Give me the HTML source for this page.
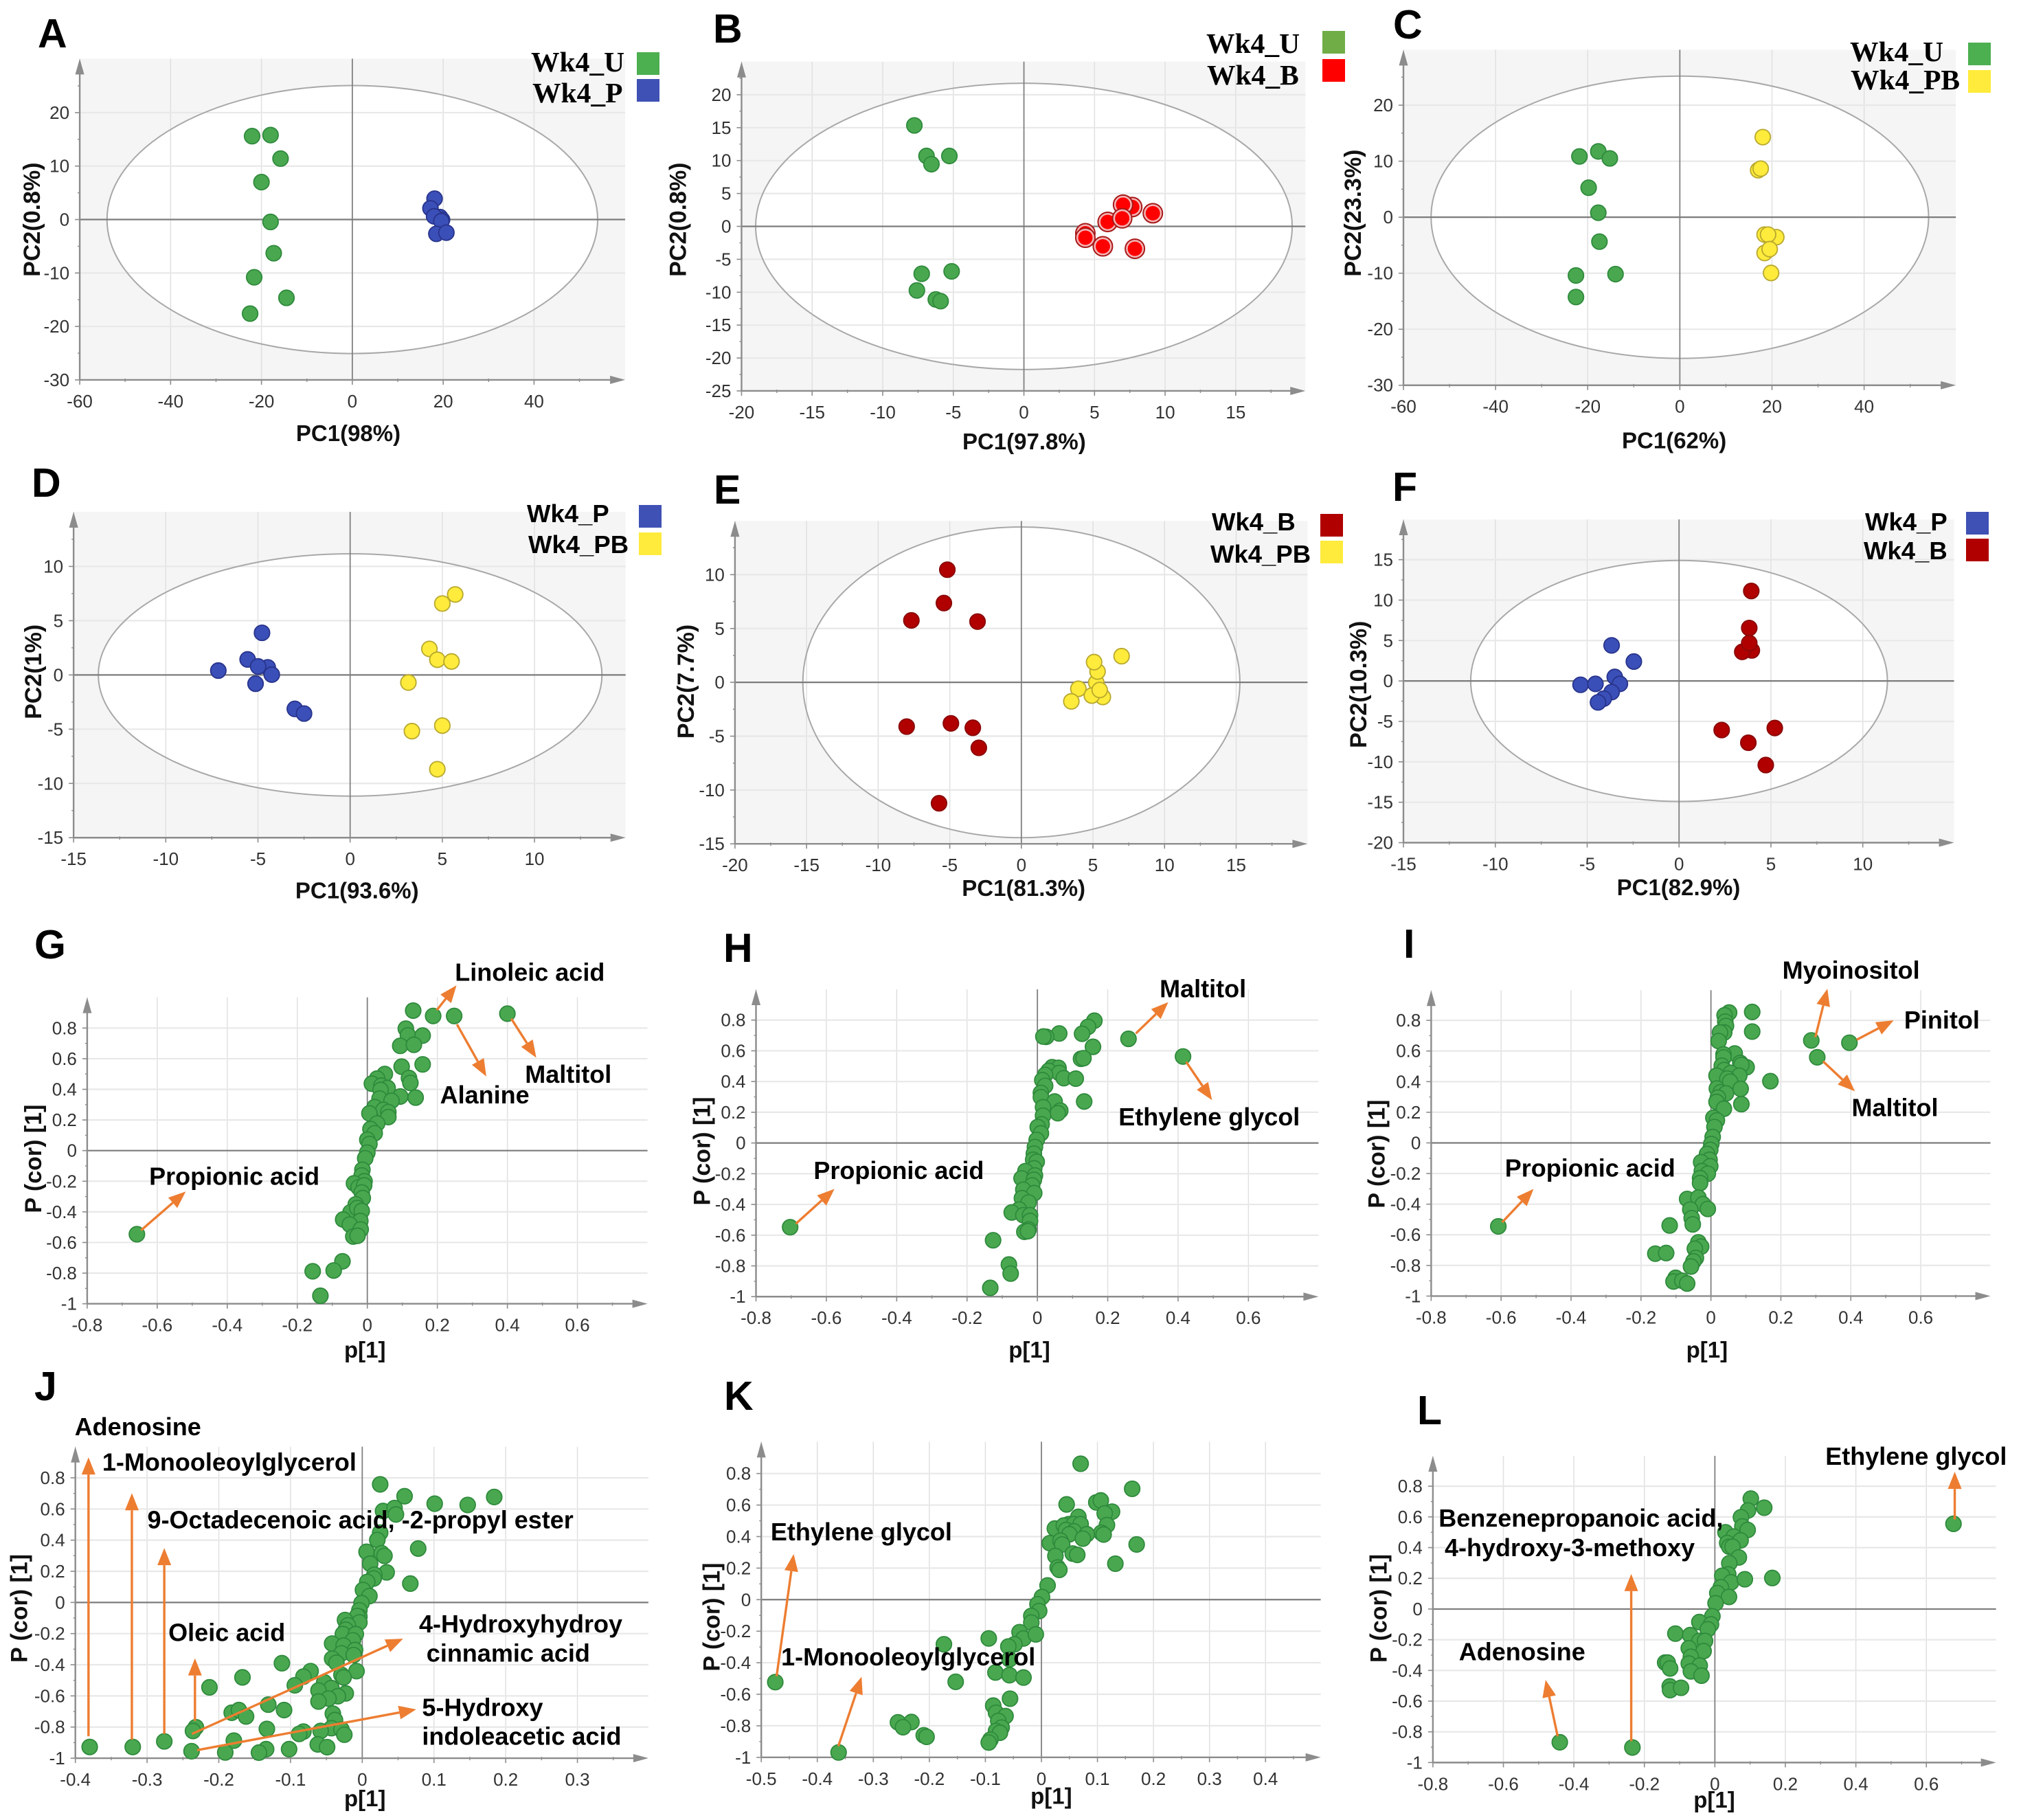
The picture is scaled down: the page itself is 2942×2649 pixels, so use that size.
<!DOCTYPE html>
<html lang="en">
<head>
<meta charset="utf-8">
<title>PCA score plots and S-plots</title>
<style>
html,body{margin:0;padding:0;background:#fff;}
svg{display:block;font-family:"Liberation Sans",sans-serif;}
</style>
</head>
<body>
<svg id="figure" xmlns="http://www.w3.org/2000/svg" width="2942" height="2649" viewBox="0 0 2942 2649"></svg>
<script>
// ---------- tick labels ----------
const pc60XTicks = [-60,-40,-20,0,20,40];
const pc30YTicks = [-30,-20,-10,0,10,20];
const pc20XTicks = [-20,-15,-10,-5,0,5,10,15];
const pc25YTicks = [-25,-20,-15,-10,-5,0,5,10,15,20];
const pc15XTicks = [-15,-10,-5,0,5,10];
const pc15YTicks = [-15,-10,-5,0,5,10];
const pc20YTicks = [-20,-15,-10,-5,0,5,10,15];
const loadXTicks = [-0.8,-0.6,-0.4,-0.2,0,0.2,0.4,0.6];
const loadYTicks = [-1,-0.8,-0.6,-0.4,-0.2,0,0.2,0.4,0.6,0.8];
const loadJXTicks = [-0.4,-0.3,-0.2,-0.1,0,0.1,0.2,0.3];
const loadKXTicks = [-0.5,-0.4,-0.3,-0.2,-0.1,0,0.1,0.2,0.3,0.4];

// ---------- panel A ----------
const aEllipse = [54,25.07];
const aUX = [-22.06,-18,-15.8,-20,-18,-17.3,-21.6,-14.5,-22.5];
const aUY = [15.6,15.8,11.4,7,-0.45,-6.3,-10.8,-14.65,-17.6];
const aPX = [18.1,17.2,19.3,19.75,18,19.6,18.5,20.7];
const aPY = [3.9,2.1,0.45,-0.05,0.6,-0.3,-2.67,-2.45];
// ---------- panel B ----------
const bEllipse = [19,21.75];
const bUX = [-7.76,-6.9,-6.55,-5.28,-5.12,-7.24,-7.58,-6.24,-5.9];
const bUY = [15.34,10.7,9.45,10.7,-6.83,-7.2,-9.73,-11.1,-11.36];
const bBX = [7.67,7.02,9.13,5.93,6.96,4.35,4.35,5.59,7.86];
const bBY = [2.94,3.3,2,0.68,1.22,-1.04,-1.72,-3.03,-3.4];
// ---------- panel C ----------
const cEllipse = [54,25.2];
const cUX = [-21.8,-17.7,-15.2,-19.8,-17.7,-17.45,-22.55,-13.96,-22.55];
const cUY = [10.85,11.75,10.5,5.27,0.8,-4.36,-10.4,-10.16,-14.25];
const cPBX = [18,17,17.55,18.4,20.94,19.15,18.4,19.5,19.8];
const cPBY = [14.3,8.4,8.67,-3.1,-3.56,-3.1,-6.38,-5.7,-9.95];
// ---------- panel D ----------
const dEllipse = [13.66,11.17];
const dPX = [-4.78,-5.56,-4.47,-4.99,-4.25,-7.15,-5.13,-3,-2.5];
const dPY = [3.88,1.43,0.7,0.78,0.03,0.4,-0.81,-3.13,-3.56];
const dPBX = [5.7,5,4.3,4.73,5.5,3.16,5,3.35,4.73];
const dPBY = [7.42,6.58,2.4,1.4,1.24,-0.7,-4.67,-5.18,-8.69];
// ---------- panel E ----------
const eEllipse = [15.26,14.43];
const eBX = [-5.17,-5.41,-7.68,-3.06,-4.92,-8.01,-3.39,-2.97,-5.75];
const eBY = [10.46,7.36,5.75,5.64,-3.81,-4.11,-4.22,-6.08,-11.23];
const ePBX = [7,5.69,5.23,5.32,5.08,3.98,3.49,4.92,5.47];
const ePBY = [2.43,-1.36,-0.03,1,1.88,-0.6,-1.77,-1.23,-0.71];
// ---------- panel F ----------
const fEllipse = [11.34,14.9];
const fPX = [-3.67,-2.46,-3.5,-3.22,-5.36,-4.55,-3.67,-4.1,-4.41];
const fPY = [4.4,2.4,0.5,-0.36,-0.47,-0.36,-1.38,-2.18,-2.65];
const fBX = [3.93,3.82,3.96,3.44,3.82,2.32,5.21,3.77,4.72];
const fBY = [11.13,6.55,3.78,3.6,4.69,-6.07,-5.82,-7.64,-10.4];
// ---------- panel G ----------
const gX = [0.131,0.188,0.248,0.4,0.11,0.116,0.158,0.094,0.133,0.098,0.158,0.119,0.123,0.05,0.028,0.013,0.04,0.058,0.038,0.094,0.138,0.035,0.069,0.021,0.046,0.006,0.06,0.06,0.028,0.009,0.021,0,0.006,0,-0.006,-0.014,-0.016,-0.008,-0.038,-0.025,-0.009,-0.016,-0.013,-0.033,-0.048,-0.029,-0.016,-0.02,-0.069,-0.05,-0.019,-0.04,-0.028,-0.658,-0.071,-0.156,-0.096,-0.134];
const gY = [0.914,0.879,0.879,0.894,0.796,0.753,0.751,0.684,0.691,0.548,0.563,0.474,0.442,0.5,0.47,0.437,0.424,0.409,0.396,0.353,0.346,0.34,0.325,0.284,0.266,0.243,0.251,0.219,0.177,0.141,0.113,0.071,0.043,-0.013,-0.05,-0.125,-0.162,-0.2,-0.214,-0.24,-0.227,-0.273,-0.31,-0.351,-0.403,-0.375,-0.394,-0.459,-0.45,-0.483,-0.515,-0.561,-0.556,-0.546,-0.723,-0.788,-0.783,-0.948];
// ---------- panel H ----------
const hX = [0.162,0.144,0.127,0.062,0.025,0.017,0.259,0.158,0.414,0.124,0.131,0.042,0.06,0.032,0.062,0.075,0.109,0.022,0.014,0.022,0.01,0.01,0.049,0.133,0.016,0.065,0.058,0.016,0.012,0.001,0.01,-0.002,-0.007,-0.01,-0.012,-0.002,-0.009,-0.034,-0.045,-0.007,-0.01,-0.015,-0.04,-0.009,-0.044,-0.025,-0.052,-0.073,-0.04,-0.021,-0.021,-0.025,-0.037,-0.027,-0.703,-0.126,-0.081,-0.076,-0.134];
const hY = [0.796,0.756,0.711,0.713,0.691,0.693,0.678,0.626,0.563,0.548,0.552,0.493,0.489,0.47,0.456,0.422,0.419,0.443,0.409,0.372,0.326,0.298,0.27,0.27,0.233,0.211,0.194,0.178,0.122,0.104,0.063,0.02,-0.026,-0.069,-0.109,-0.122,-0.165,-0.183,-0.23,-0.211,-0.239,-0.276,-0.304,-0.326,-0.359,-0.387,-0.433,-0.452,-0.47,-0.47,-0.507,-0.563,-0.578,-0.574,-0.548,-0.633,-0.791,-0.85,-0.943];
// ---------- panel I ----------
const iX = [0.052,0.039,0.118,0.041,0.043,0.038,0.026,0.118,0.022,0.287,0.396,0.304,0.068,0.036,0.036,0.031,0.084,0.102,0.087,0.038,0.057,0.016,0.081,0.047,0.055,0.17,0.017,0.085,0.028,0.043,0.02,0.016,0.037,0.087,0.007,0.017,0.01,0.005,0.001,-0.002,-0.011,-0.004,-0.028,-0.002,-0.026,-0.009,-0.031,-0.031,-0.068,-0.036,-0.023,-0.009,-0.059,-0.055,-0.052,-0.118,-0.608,-0.036,-0.028,-0.046,-0.159,-0.128,-0.043,-0.05,-0.057,-0.101,-0.107,-0.082,-0.068];
const iY = [0.851,0.833,0.855,0.792,0.764,0.721,0.721,0.727,0.665,0.669,0.654,0.559,0.584,0.578,0.558,0.504,0.522,0.494,0.509,0.476,0.457,0.439,0.439,0.42,0.4,0.403,0.355,0.353,0.331,0.323,0.296,0.268,0.223,0.253,0.164,0.147,0.104,0.039,-0.007,-0.045,-0.072,-0.11,-0.126,-0.152,-0.184,-0.201,-0.23,-0.262,-0.366,-0.357,-0.4,-0.431,-0.435,-0.491,-0.532,-0.539,-0.545,-0.649,-0.677,-0.691,-0.723,-0.719,-0.751,-0.773,-0.807,-0.881,-0.905,-0.9,-0.918];
// ---------- panel J ----------
const jX = [0.025,0.059,0.101,0.147,0.184,0.029,0.045,0.047,0.025,0.021,0.078,0.006,0.027,0.031,0.011,0.034,0.017,0.016,0.007,0.067,0.001,0.01,-0.001,-0.004,-0.004,-0.007,-0.024,-0.004,-0.02,-0.023,-0.027,-0.009,-0.013,-0.042,-0.026,-0.01,-0.029,-0.012,-0.042,-0.036,-0.112,-0.008,-0.029,-0.026,-0.072,-0.082,-0.167,-0.053,-0.094,-0.213,-0.043,-0.061,-0.023,-0.034,-0.047,-0.061,-0.131,-0.109,-0.182,-0.172,-0.162,-0.041,-0.038,-0.043,-0.029,-0.025,-0.058,-0.133,-0.082,-0.088,-0.232,-0.236,-0.179,-0.276,-0.38,-0.32,-0.062,-0.049,-0.238,-0.191,-0.134,-0.144,-0.102];
const jY = [0.758,0.682,0.634,0.626,0.677,0.587,0.606,0.565,0.448,0.401,0.346,0.325,0.316,0.299,0.249,0.193,0.178,0.154,0.132,0.121,0.08,0.041,-0.004,-0.05,-0.091,-0.087,-0.113,-0.128,-0.147,-0.175,-0.203,-0.203,-0.243,-0.264,-0.277,-0.305,-0.327,-0.338,-0.361,-0.387,-0.39,-0.441,-0.465,-0.481,-0.441,-0.476,-0.481,-0.513,-0.532,-0.545,-0.55,-0.565,-0.584,-0.602,-0.617,-0.636,-0.656,-0.691,-0.708,-0.691,-0.732,-0.714,-0.755,-0.807,-0.816,-0.849,-0.825,-0.812,-0.829,-0.844,-0.801,-0.825,-0.887,-0.892,-0.928,-0.928,-0.911,-0.929,-0.955,-0.963,-0.942,-0.964,-0.942];
// ---------- panel K ----------
const kX = [0.07,0.162,0.045,0.098,0.106,0.126,0.113,0.066,0.117,0.049,0.024,0.04,0.058,0.07,0.044,0.058,0.107,0.111,0.05,0.081,0.074,0.015,0.034,0.037,0.17,0.056,0.064,0.025,0.132,0.029,0.032,0.011,0.001,-0.007,-0.004,-0.018,-0.018,-0.039,-0.032,-0.01,-0.094,-0.048,-0.059,-0.174,-0.057,-0.082,-0.057,-0.032,-0.153,-0.475,-0.056,-0.086,-0.081,-0.064,-0.077,-0.232,-0.256,-0.247,-0.071,-0.081,-0.074,-0.21,-0.205,-0.091,-0.094,-0.362];
const kY = [0.862,0.703,0.604,0.617,0.629,0.558,0.547,0.525,0.473,0.479,0.451,0.47,0.479,0.479,0.442,0.433,0.424,0.413,0.415,0.415,0.387,0.358,0.374,0.35,0.35,0.292,0.284,0.277,0.228,0.204,0.189,0.09,0.017,-0.029,-0.072,-0.103,-0.145,-0.206,-0.246,-0.22,-0.246,-0.283,-0.297,-0.283,-0.378,-0.462,-0.479,-0.494,-0.521,-0.523,-0.628,-0.672,-0.717,-0.738,-0.769,-0.776,-0.778,-0.809,-0.811,-0.833,-0.844,-0.86,-0.87,-0.888,-0.906,-0.969];
// ---------- panel L ----------
const lX = [0.102,0.14,0.094,0.074,0.078,0.093,0.03,0.054,0.073,0.035,0.041,0.05,0.068,0.041,0.038,0.021,0.046,0.085,0.163,0.017,0.007,0.04,0.002,-0.007,-0.044,-0.011,-0.02,-0.112,-0.07,-0.044,-0.028,-0.074,-0.032,-0.068,-0.074,-0.141,-0.134,-0.127,-0.043,-0.068,-0.038,-0.128,-0.127,-0.096,-0.44,-0.234,0.677];
const lY = [0.719,0.66,0.642,0.598,0.538,0.515,0.5,0.472,0.447,0.43,0.406,0.406,0.336,0.298,0.226,0.217,0.174,0.194,0.202,0.142,0.104,0.079,0.038,-0.047,-0.085,-0.1,-0.132,-0.16,-0.17,-0.208,-0.208,-0.255,-0.274,-0.311,-0.355,-0.349,-0.349,-0.387,-0.368,-0.406,-0.434,-0.504,-0.528,-0.513,-0.868,-0.902,0.555];

// ---------- styles ----------
const GREEN = {fill:'#49a84f',stroke:'#2f8a3c'};
const BLUE = {fill:'#3b4fb8',stroke:'#28348c'};
const YELLOW = {fill:'#ffeb3b',stroke:'#b8a82e'};
const RED = {fill:'#ff0000',stroke:'#a81818',ring:true};
const DARKRED = {fill:'#b00000',stroke:'#8a0808'};

const panels = [
 {id:'a',crop:[0,0,1000,680],xr:[[-60,182],[40,1219]],yr:[[20,378],[-30,1275]],right:1427,top:197,xt:pc60XTicks,yt:pc30YTicks,ell:aEllipse,
  xTitle:'PC1(98%)',yTitle:'PC2(0.8%)',xtp:[795,1480],ytp:[737,97],
  series:[[aUX,aUY,GREEN],[aPX,aPY,BLUE]]},
 {id:'b',crop:[950,0,1000,680],xr:[[-20,203],[15,1331]],yr:[[20,318],[-25,1312]],right:1490,top:207,xt:pc20XTicks,yt:pc25YTicks,ell:bEllipse,
  xTitle:'PC1(97.8%)',yTitle:'PC2(0.8%)',xtp:[848,1508],ytp:[737,82],
  series:[[bUX,bUY,GREEN],[bBX,bBY,RED]]},
 {id:'c',crop:[1950,0,992,680],xr:[[-60,147],[40,1207]],yr:[[20,353],[-30,1293]],right:1418,top:167,xt:pc60XTicks,yt:pc30YTicks,ell:cEllipse,
  xTitle:'PC1(62%)',yTitle:'PC2(23.3%)',xtp:[770,1505],ytp:[715,55],
  series:[[cUX,cUY,GREEN],[cPBX,cPBY,YELLOW]]},
 {id:'d',crop:[0,680,1000,670],xr:[[-15,168],[10,1220]],yr:[[10,338],[-15,1262]],right:1428,top:152,xt:pc15XTicks,yt:pc15YTicks,ell:dEllipse,
  xTitle:'PC1(93.6%)',yTitle:'PC2(1%)',xtp:[815,1468],ytp:[697,100],
  series:[[dPX,dPY,BLUE],[dPBX,dPBY,YELLOW]]},
 {id:'e',crop:[950,680,1000,670],xr:[[-20,188],[15,1332]],yr:[[10,366],[-15,1283]],right:1495,top:183,xt:pc20XTicks,yt:pc15YTicks,ell:eEllipse,
  xTitle:'PC1(81.3%)',yTitle:'PC2(7.7%)',xtp:[847,1460],ytp:[730,100],
  series:[[eBX,eBY,DARKRED],[ePBX,ePBY,YELLOW]]},
 {id:'f',crop:[1950,680,992,670],xr:[[-15,147],[10,1204]],yr:[[15,315],[-20,1279]],right:1414,top:178,xt:pc15XTicks,yt:pc20YTicks,ell:fEllipse,
  xTitle:'PC1(82.9%)',yTitle:'PC2(10.3%)',xtp:[780,1458],ytp:[740,68],
  series:[[fPX,fPY,BLUE],[fBX,fBY,DARKRED]]},
 {id:'g',crop:[0,1350,1000,650],xr:[[-0.8,199],[0.6,1318]],yr:[[0.8,353],[-1,1321]],right:1478,top:245,xt:loadXTicks,yt:loadYTicks,
  xTitle:'p[1]',yTitle:'P (cor) [1]',xtp:[833,1510],ytp:[812,100],series:[[gX,gY,GREEN]],
  arrows:[[997,290,1042,203],[1043,340,1110,523],[1167,320,1224,457],[322,1063,424,927]],
  notes:[['Linoleic acid',1040,187],['Alanine',1006,618],['Maltitol',1200,545],['Propionic acid',342,903]]},
 {id:'h',crop:[980,1350,1000,650],xr:[[-0.8,189],[0.6,1313]],yr:[[0.8,325],[-1,1296]],right:1473,top:217,xt:loadXTicks,yt:loadYTicks,
  xTitle:'p[1]',yTitle:'P (cor) [1]',xtp:[813,1510],ytp:[785,90],series:[[hX,hY,GREEN]],
  arrows:[[1056,372,1130,262],[1171,472,1230,606],[280,1040,368,918]],
  notes:[['Maltitol',1112,245],['Ethylene glycol',1018,695],['Propionic acid',322,883]]},
 {id:'i',crop:[1960,1350,982,650],xr:[[-0.8,197],[0.6,1335]],yr:[[0.8,326],[-1,1294]],right:1497,top:220,xt:loadXTicks,yt:loadYTicks,
  xTitle:'p[1]',yTitle:'P (cor) [1]',xtp:[838,1510],ytp:[795,95],series:[[iX,iY,GREEN]],
  arrows:[[1090,385,1118,215],[1186,394,1272,326],[1108,470,1182,575],[362,1035,435,918]],
  notes:[['Myoinositol',1015,180],['Pinitol',1298,355],['Maltitol',1176,662],['Propionic acid',370,875]]},
 {id:'j',crop:[0,1990,1000,659],xr:[[-0.4,172],[0.3,1318]],yr:[[0.8,383],[-1,1354]],right:1480,top:275,xt:loadJXTicks,yt:loadYTicks,
  xTitle:'p[1]',yTitle:'P (cor) [1]',xtp:[833,1520],ytp:[835,68],series:[[jX,jY,GREEN]],
  arrows:[[202,1278,202,312],[301,1290,301,436],[375,1270,375,626],[445,1225,445,1008],[438,1270,920,940],[450,1326,950,1185]],
  notes:[['Adenosine',172,235],['1-Monooleoylglycerol',235,358],['9-Octadecenoic acid, -2-propyl ester',338,558],['Oleic acid',386,948],['4-Hydroxyhydroy',958,918],['cinnamic acid',975,1020],['5-Hydroxy',965,1208],['indoleacetic acid',965,1307]]},
 {id:'k',crop:[980,1990,1000,659],xr:[[-0.5,201],[0.4,1352]],yr:[[0.8,368],[-1,1351]],right:1478,top:258,xt:loadKXTicks,yt:loadYTicks,
  xTitle:'p[1]',yTitle:'P (cor) [1]',xtp:[863,1512],ytp:[865,112],series:[[kX,kY,GREEN]],
  arrows:[[236,1070,275,647],[377,1312,430,1072]],
  notes:[['Ethylene glycol',224,600],['1-Monooleoylglycerol',248,1033]]},
 {id:'l',crop:[1960,1990,982,659],xr:[[-0.8,201],[0.6,1348]],yr:[[0.8,412],[-1,1369]],right:1510,top:307,xt:loadXTicks,yt:loadYTicks,
  xTitle:'p[1]',yTitle:'P (cor) [1]',xtp:[855,1525],ytp:[835,100],series:[[lX,lY,GREEN]],
  arrows:[[491,1278,463,1083],[662,1295,662,716],[1414,527,1414,362]],
  notes:[['Ethylene glycol',1115,338],['Benzenepropanoic acid,',216,552],['4-hydroxy-3-methoxy',230,654],['Adenosine',263,1015]]}
];

const panelLetters = [['A',55,69],['B',1038,62],['C',2028,56],['D',46,723],['E',1039,733],['F',2027,729],['G',50,1395],['H',1053,1400],['I',2043,1394],['J',50,2038],['K',1054,2052],['L',2063,2073]];

const legends = [
 {id:'a',font:'"Liberation Serif",serif',size:41.5,items:[['Wk4_U',773,104,927,76,'#4caf50'],['Wk4_P',775,149,927,115,'#3f51b5']]},
 {id:'b',font:'"Liberation Serif",serif',size:41.5,items:[['Wk4_U',1756,77,1925,45,'#70ad47'],['Wk4_B',1757,123,1925,86,'#ff0000']]},
 {id:'c',font:'"Liberation Serif",serif',size:41.5,items:[['Wk4_U',2693,89,2865,62,'#4caf50'],['Wk4_PB',2694,130,2865,102,'#ffeb3b']]},
 {id:'d',font:'"Liberation Sans",sans-serif',size:36.5,items:[['Wk4_P',767,760,930,735,'#3f51b5'],['Wk4_PB',769,805,930,775,'#ffeb3b']]},
 {id:'e',font:'"Liberation Sans",sans-serif',size:36.5,items:[['Wk4_B',1764,772,1922,748,'#b00000'],['Wk4_PB',1762,819,1922,787,'#ffeb3b']]},
 {id:'f',font:'"Liberation Sans",sans-serif',size:36.5,items:[['Wk4_P',2715,772,2862,745,'#3f51b5'],['Wk4_B',2713,814,2862,784,'#b00000']]}
];

// ---------- drawing ----------
const NS = 'http://www.w3.org/2000/svg';
const root = document.getElementById('figure');
function add(parent, tag, props, name, interact){
  const el = document.createElementNS(NS, tag);
  for (const k in props) el.setAttribute(k, props[k]);
  
  
  parent.appendChild(el);
  return el;
}
function linear(ref0, ref1){
  const m = (ref1[1]-ref0[1])/(ref1[0]-ref0[0]);
  return v => ref0[1] + (v-ref0[0])*m;
}
function fmt(v){ return String(v); }

function drawPanel(p){
  const kx = p.crop[2]/1568, ky = p.crop[3]/1568;
  const zx = z => p.crop[0] + z*kx;
  const zy = z => p.crop[1] + z*ky;
  const xs0 = linear(p.xr[0],p.xr[1]);
  const ys0 = linear(p.yr[0],p.yr[1]);
  const sx = v => zx(xs0(v));
  const sy = v => zy(ys0(v));
  const g = add(root,'g',{},'panel-'+p.id,false);
  const L = sx(p.xt[0]), R = zx(p.right), T = zy(p.top), B = sy(p.yt[0]);
  const X0 = sx(0), Y0 = sy(0);

  if (p.ell){
    add(g,'rect',{x:L,y:T,width:R-L,height:B-T,fill:'#f5f5f5'},'plot-background-'+p.id,false);
    add(g,'ellipse',{cx:X0,cy:Y0,rx:sx(p.ell[0])-X0,ry:Y0-sy(p.ell[1]),fill:'#fff'},'confidence-ellipse-fill-'+p.id,false);
  }
  // grid
  p.xt.forEach(v=>{
    if (v===0) return;
    add(g,'line',{x1:sx(v),x2:sx(v),y1:T,y2:B,stroke:'#e0e0e0','stroke-width':1.5},'x-gridline',false);
  });
  p.yt.forEach(v=>{
    if (v===0 || v===p.yt[0]) return;
    add(g,'line',{x1:L,x2:R,y1:sy(v),y2:sy(v),stroke:'#e8e8e8','stroke-width':2.2},'y-gridline',false);
  });
  if (p.ell){
    add(g,'ellipse',{cx:X0,cy:Y0,rx:sx(p.ell[0])-X0,ry:Y0-sy(p.ell[1]),fill:'none',stroke:'#a8a8a8','stroke-width':2},'confidence-ellipse-'+p.id,false);
  }
  // zero lines
  add(g,'line',{x1:X0,x2:X0,y1:T,y2:B,stroke:'#808080','stroke-width':1.8},'zero-line-vertical',false);
  add(g,'line',{x1:L,x2:R,y1:Y0,y2:Y0,stroke:'#7c7c7c','stroke-width':2.2},'zero-line-horizontal',false);
  // axes
  add(g,'line',{x1:L,x2:R-8,y1:B,y2:B,stroke:'#8c8c8c','stroke-width':2.4},'x-axis',false);
  add(g,'line',{x1:L,x2:L,y1:T+8,y2:B,stroke:'#8c8c8c','stroke-width':2.4},'y-axis',false);
  add(g,'polygon',{points:[R,B,R-22,B-6,R-22,B+6].join(','),fill:'#8c8c8c'},'x-axis-arrow',false);
  add(g,'polygon',{points:[L,T,L-6.5,T+23,L+6.5,T+23].join(','),fill:'#8c8c8c'},'y-axis-arrow',false);
  // ticks
  const xStep = p.xt[1]-p.xt[0], yStep = p.yt[1]-p.yt[0];
  p.xt.forEach(v=>{
    add(g,'line',{x1:sx(v),x2:sx(v),y1:B,y2:B+7,stroke:'#8c8c8c','stroke-width':1.6},'x-tick',false);
    const m = sx(v+xStep/2);
    if (m < R-24) add(g,'line',{x1:m,x2:m,y1:B-2,y2:B+3,stroke:'#8c8c8c','stroke-width':1.4},'x-minor-tick',false);
    const t = add(g,'text',{x:sx(v),y:B+40,'text-anchor':'middle','font-size':26,fill:'#333'},'x-tick-label',false);
    t.textContent = fmt(v);
  });
  p.yt.forEach(v=>{
    add(g,'line',{x1:L-7,x2:L,y1:sy(v),y2:sy(v),stroke:'#8c8c8c','stroke-width':1.6},'y-tick',false);
    const m = sy(v+yStep/2);
    if (m > T+24) add(g,'line',{x1:L-3,x2:L+1,y1:m,y2:m,stroke:'#8c8c8c','stroke-width':1.4},'y-minor-tick',false);
    const t = add(g,'text',{x:L-15,y:sy(v)+9,'text-anchor':'end','font-size':26,fill:'#333'},'y-tick-label',false);
    t.textContent = fmt(v);
  });
  // titles
  const xt = add(g,'text',{x:zx(p.xtp[0]),y:zy(p.xtp[1]),'text-anchor':'middle','font-size':33,'font-weight':'bold',fill:'#111'},'x-axis-title',false);
  xt.textContent = p.xTitle;
  const yx = zx(p.ytp[1])-4, yy = zy(p.ytp[0]);
  const yt = add(g,'text',{x:yx,y:yy,transform:'rotate(-90 '+yx+' '+yy+')','text-anchor':'middle','font-size':34,'font-weight':'bold',fill:'#111'},'y-axis-title',false);
  yt.textContent = p.yTitle;
  // points
  p.series.forEach(s=>{
    const xs = s[0], ys = s[1], st = s[2];
    xs.forEach((v,i)=>{
      if (st.ring){
        add(g,'circle',{cx:sx(v),cy:sy(ys[i]),r:14,fill:'#f3b5b5',stroke:st.stroke,'stroke-width':2},'score-point-ring',false);
        add(g,'circle',{cx:sx(v),cy:sy(ys[i]),r:10.5,fill:st.fill},'score-point',false);
      } else {
        add(g,'circle',{cx:sx(v),cy:sy(ys[i]),r:11.2,fill:st.fill,stroke:st.stroke,'stroke-width':1.8},'score-point',false);
      }
    });
  });
  // arrows
  (p.arrows||[]).forEach(a=>{
    const x1=zx(a[0]),y1=zy(a[1]),x2=zx(a[2]),y2=zy(a[3]);
    const d=Math.hypot(x2-x1,y2-y1),ux=(x2-x1)/d,uy=(y2-y1)/d,hl=25,hw=10;
    const bx=x2-ux*hl,by=y2-uy*hl;
    add(g,'line',{x1:x1,y1:y1,x2:bx,y2:by,stroke:'#ed7d31','stroke-width':3.4},'annotation-arrow-line',false);
    add(g,'polygon',{points:[x2,y2,bx-uy*hw,by+ux*hw,bx+uy*hw,by-ux*hw].join(','),fill:'#ed7d31'},'annotation-arrow-head',false);
  });
  // notes
  (p.notes||[]).forEach(n=>{
    const t = add(g,'text',{x:zx(n[1])-1,y:zy(n[2]),'font-size':36,'font-weight':'bold',fill:'#000'},'metabolite-label',false);
    t.textContent = n[0];
  });
}

panels.forEach(drawPanel);

legends.forEach(l=>{
  const g = add(root,'g',{},'legend-'+l.id,false);
  l.items.forEach(it=>{
    const t = add(g,'text',{x:it[1],y:it[2],'font-size':l.size,'font-weight':'bold',fill:'#000',style:'font-family:'+l.font.replace(/"/g,"'")},'legend-label',false);
    t.textContent = it[0];
    add(g,'rect',{x:it[3],y:it[4],width:33,height:33,fill:it[5]},'legend-swatch',false);
  });
});

panelLetters.forEach(l=>{
  const t = add(root,'text',{x:l[1],y:l[2],'font-size':59,'font-weight':'bold',fill:'#000'},'panel-letter-'+l[0].toLowerCase(),false);
  t.textContent = l[0];
});
</script>
</body>
</html>
